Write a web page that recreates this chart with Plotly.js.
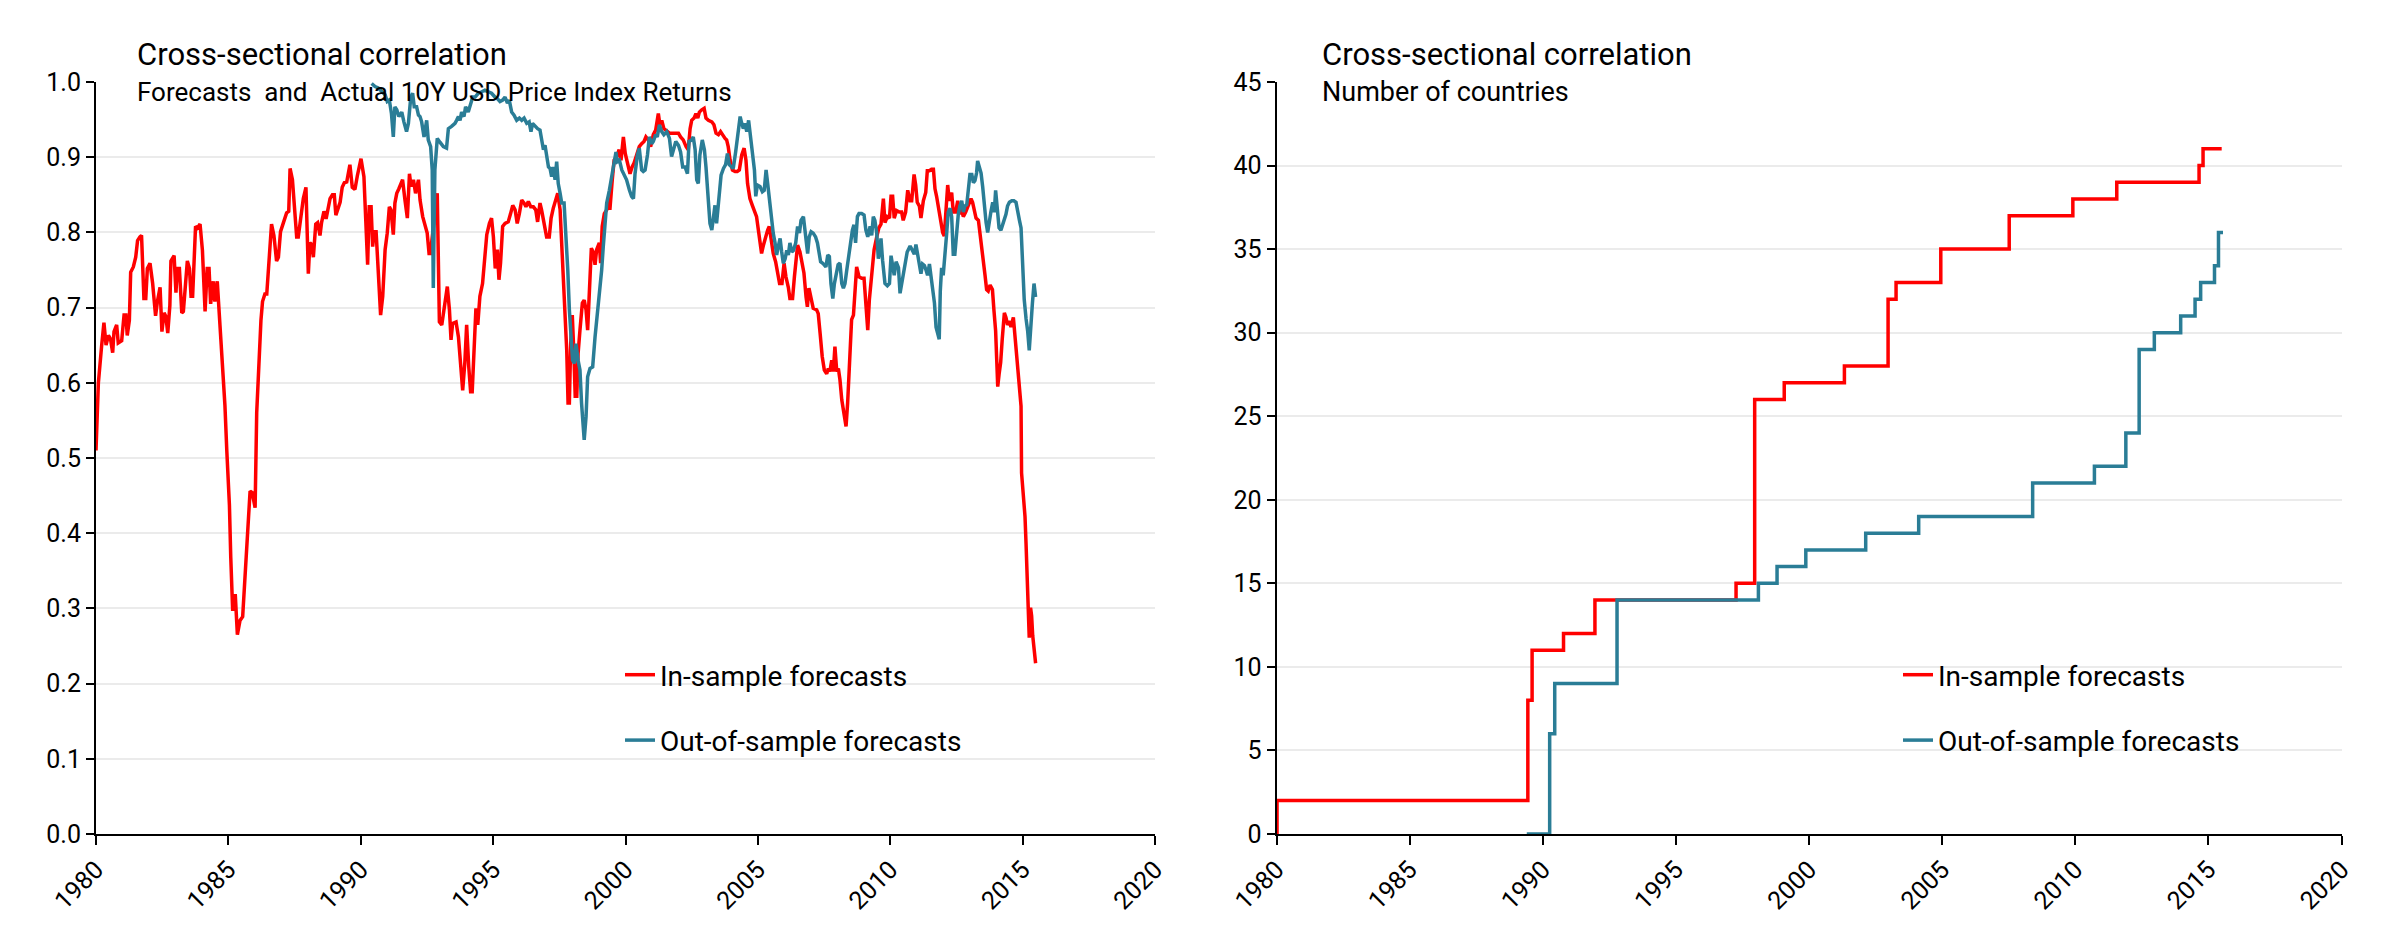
<!DOCTYPE html>
<html>
<head>
<meta charset="utf-8">
<script src="https://cdn.plot.ly/plotly-3.0.1.min.js"></script>
<style>
  html, body { margin: 0; padding: 0; background: #ffffff; }
  #chart { width: 2400px; height: 950px; }
</style>
</head>
<body>
<div id="chart"></div>
<script>
// ---------- Data ----------
// Left panel: cross-sectional correlation, in-sample forecasts
const inSampleYears = [
  1980.00,1980.09,1980.21,1980.30,1980.38,1980.47,1980.55,1980.63,1980.68,1980.78,1980.84,1980.97,
  1981.06,1981.13,1981.18,1981.26,1981.31,1981.41,1981.50,1981.57,1981.66,1981.72,1981.81,1981.88,1981.94,
  1982.04,1982.14,1982.25,1982.32,1982.42,1982.49,1982.57,1982.64,1982.71,1982.79,1982.83,1982.95,
  1983.02,1983.07,1983.15,1983.24,1983.30,1983.45,1983.53,1983.59,1983.65,1983.76,1983.83,1983.93,
  1984.02,1984.12,1984.20,1984.27,1984.33,1984.43,1984.49,1984.58,1984.63,1984.75,1984.87,1984.94,
  1985.04,1985.09,1985.16,1985.21,1985.26,1985.34,1985.44,1985.54,1985.63,1985.72,1985.82,1985.90,
  1986.01,1986.07,1986.16,1986.23,1986.29,1986.38,1986.45,1986.53,1986.63,1986.72,1986.82,1986.89,1986.97,
  1987.08,1987.20,1987.28,1987.33,1987.42,1987.49,1987.58,1987.64,1987.73,1987.83,1987.93,
  1988.02,1988.08,1988.15,1988.21,1988.30,1988.37,1988.46,1988.52,1988.61,1988.69,1988.75,1988.84,1988.93,
  1989.00,1989.06,1989.15,1989.22,1989.30,1989.38,1989.47,1989.59,1989.68,1989.78,1989.87,1989.97,
  1990.01,1990.12,1990.20,1990.26,1990.32,1990.39,1990.45,1990.51,1990.58,1990.66,1990.75,1990.83,1990.92,
  1991.00,1991.08,1991.14,1991.23,1991.29,1991.36,1991.44,1991.58,1991.67,1991.76,1991.84,1991.90,1991.99,
  1992.07,1992.18,1992.24,1992.34,1992.43,1992.51,1992.58,1992.63,1992.89,1992.97,
  1993.06,1993.18,1993.27,1993.35,1993.41,1993.47,1993.60,1993.69,1993.77,1993.85,1993.93,
  1994.00,1994.08,1994.15,1994.21,1994.29,1994.35,1994.42,1994.50,1994.60,1994.69,1994.76,1994.86,1994.94,
  1995.01,1995.08,1995.16,1995.22,1995.28,1995.36,1995.45,1995.57,1995.66,1995.74,1995.83,1995.91,1995.99,
  1996.08,1996.17,1996.24,1996.33,1996.42,1996.52,1996.61,1996.68,1996.77,1996.83,1996.92,
  1997.02,1997.12,1997.19,1997.27,1997.37,1997.44,1997.53,1997.59,1997.65,1997.71,1997.78,1997.83,1997.88,1997.93,1997.99,
  1998.05,1998.10,1998.16,1998.21,1998.28,1998.37,1998.44,1998.51,1998.57,1998.63,1998.71,1998.78,1998.85,1998.91,
  1999.01,1999.06,1999.12,1999.20,1999.29,1999.35,1999.41,1999.50,1999.57,1999.67,1999.76,1999.83,1999.92,1999.99,
  2000.07,2000.17,2000.25,2000.32,2000.42,2000.52,2000.61,2000.70,2000.77,2000.86,2000.95,
  2001.05,2001.14,2001.24,2001.30,2001.37,2001.45,2001.56,2001.66,2001.74,2001.87,
  2002.00,2002.08,2002.18,2002.29,2002.37,2002.44,2002.50,2002.59,2002.66,2002.73,2002.79,2002.88,2002.97,
  2003.04,2003.13,2003.26,2003.34,2003.42,2003.51,2003.59,2003.70,2003.76,2003.82,2003.88,2003.95,
  2004.04,2004.14,2004.22,2004.30,2004.39,2004.48,2004.55,2004.61,2004.70,2004.79,2004.87,2004.95,
  2005.02,2005.08,2005.14,2005.21,2005.28,2005.37,2005.43,2005.52,2005.58,2005.67,2005.75,2005.82,2005.91,2005.99,
  2006.06,2006.15,2006.21,2006.31,2006.38,2006.44,2006.50,2006.59,2006.68,2006.74,2006.82,2006.87,2006.93,
  2007.01,2007.09,2007.22,2007.28,2007.35,2007.43,2007.51,2007.60,2007.66,2007.72,2007.79,2007.85,2007.91,2007.98,
  2008.04,2008.10,2008.17,2008.25,2008.33,2008.39,2008.46,2008.54,2008.61,2008.67,2008.73,2008.82,2008.92,
  2009.01,2009.08,2009.15,2009.21,2009.30,2009.39,2009.49,2009.57,2009.65,2009.74,2009.80,2009.89,2009.97,
  2010.03,2010.09,2010.15,2010.24,2010.34,2010.43,2010.49,2010.58,2010.66,2010.75,2010.81,2010.90,2010.96,
  2011.02,2011.10,2011.16,2011.25,2011.34,2011.40,2011.48,2011.56,2011.63,2011.69,2011.75,2011.84,2011.92,2011.98,
  2012.04,2012.11,2012.17,2012.23,2012.32,2012.38,2012.47,2012.55,2012.61,2012.67,2012.76,2012.85,2012.95,
  2013.05,2013.11,2013.18,2013.24,2013.33,2013.39,2013.45,2013.52,2013.58,2013.64,2013.70,2013.77,2013.86,2013.92,2013.98,
  2014.02,2014.06,2014.11,2014.17,2014.23,2014.31,2014.37,2014.43,2014.50,2014.56,2014.65,2014.71,2014.77,2014.84,2014.90,2014.94,2014.96,
  2015.03,2015.09,2015.13,2015.18,2015.22,2015.25,2015.30,2015.34,2015.38,2015.43,2015.49
];
const inSampleCorr = [
  0.51,0.60,0.648,0.68,0.65,0.663,0.658,0.64,0.668,0.677,0.653,0.656,
  0.69,0.69,0.663,0.683,0.747,0.754,0.767,0.789,0.794,0.796,0.712,0.712,0.752,
  0.759,0.732,0.689,0.708,0.727,0.668,0.693,0.688,0.666,0.703,0.762,0.769,
  0.72,0.752,0.752,0.693,0.695,0.762,0.752,0.715,0.715,0.808,0.806,0.811,
  0.776,0.695,0.752,0.752,0.705,0.735,0.708,0.735,0.708,0.649,0.57,0.51,
  0.437,0.368,0.299,0.299,0.319,0.265,0.284,0.289,0.338,0.388,0.456,0.454,
  0.434,0.56,0.638,0.683,0.708,0.718,0.718,0.757,0.811,0.796,0.762,0.767,0.801,
  0.813,0.826,0.828,0.885,0.87,0.835,0.794,0.794,0.818,0.845,0.86,
  0.745,0.786,0.784,0.767,0.811,0.813,0.796,0.813,0.828,0.818,0.83,0.845,0.85,
  0.85,0.823,0.833,0.84,0.86,0.866,0.867,0.89,0.86,0.857,0.875,0.894,
  0.898,0.874,0.808,0.757,0.834,0.834,0.781,0.801,0.801,0.754,0.69,0.715,0.777,
  0.799,0.834,0.83,0.797,0.839,0.852,0.858,0.87,0.843,0.819,0.878,0.861,0.87,
  0.852,0.87,0.843,0.821,0.808,0.799,0.772,0.772,0.852,0.681,
  0.677,0.71,0.728,0.697,0.657,0.679,0.681,0.661,0.621,0.59,0.626,
  0.677,0.621,0.588,0.588,0.648,0.699,0.677,0.715,0.732,0.768,0.797,0.812,0.819,
  0.794,0.752,0.777,0.737,0.759,0.808,0.812,0.814,0.825,0.836,0.83,0.812,0.825,
  0.843,0.839,0.834,0.841,0.834,0.834,0.83,0.814,0.839,0.83,0.812,
  0.794,0.794,0.819,0.832,0.845,0.852,0.83,0.79,0.75,0.697,0.643,0.573,0.573,0.652,0.69,
  0.639,0.582,0.582,0.639,0.67,0.706,0.71,0.697,0.67,0.728,0.779,0.774,0.757,0.777,
  0.786,0.759,0.808,0.825,0.83,0.843,0.83,0.87,0.896,0.901,0.91,0.896,0.927,0.905,
  0.892,0.878,0.887,0.892,0.903,0.914,0.918,0.921,0.927,0.923,0.914,
  0.93,0.936,0.958,0.943,0.949,0.938,0.934,0.932,0.932,0.932,
  0.932,0.927,0.923,0.914,0.91,0.938,0.949,0.952,0.958,0.952,0.96,0.963,0.965,
  0.952,0.949,0.947,0.943,0.932,0.93,0.934,0.927,0.925,0.923,0.914,0.896,
  0.883,0.881,0.881,0.883,0.903,0.912,0.896,0.865,0.845,0.836,0.827,0.821,
  0.803,0.783,0.772,0.783,0.794,0.803,0.808,0.79,0.772,0.761,0.746,0.732,0.732,0.759,
  0.741,0.727,0.712,0.712,0.741,0.768,0.783,0.774,0.759,0.746,0.714,0.701,0.726,
  0.71,0.699,0.697,0.692,0.666,0.635,0.617,0.612,0.619,0.615,0.63,0.615,0.648,0.615,
  0.619,0.604,0.577,0.555,0.542,0.573,0.626,0.684,0.69,0.723,0.754,0.741,0.739,
  0.739,0.701,0.67,0.71,0.75,0.777,0.794,0.806,0.811,0.845,0.813,0.821,0.819,
  0.848,0.848,0.819,0.829,0.827,0.827,0.816,0.827,0.856,0.842,0.842,0.877,0.863,
  0.84,0.835,0.819,0.842,0.853,0.882,0.882,0.884,0.884,0.858,0.848,0.827,0.813,0.8,
  0.795,0.837,0.863,0.842,0.853,0.827,0.827,0.842,0.824,0.832,0.821,0.827,0.835,
  0.845,0.84,0.829,0.819,0.816,0.8,0.779,0.758,0.743,0.724,0.722,0.73,0.724,0.695,0.669,
  0.632,0.595,0.611,0.627,0.658,0.693,0.687,0.677,0.682,0.674,0.687,0.664,0.637,0.616,0.59,0.569,0.48,
  0.453,0.422,0.385,0.332,0.261,0.261,0.301,0.29,0.264,0.248,0.227
];

// Left panel: cross-sectional correlation, out-of-sample forecasts
const outSampleYears = [
  1990.41,1990.54,1990.66,1990.79,1990.92,
  1991.00,1991.08,1991.16,1991.23,1991.29,1991.36,1991.44,1991.55,1991.63,1991.73,1991.80,1991.89,1991.96,
  1992.02,1992.11,1992.18,1992.24,1992.30,1992.39,1992.49,1992.55,1992.64,1992.70,1992.74,1992.80,1992.89,1992.99,
  1993.12,1993.24,1993.31,1993.43,1993.56,1993.62,1993.69,1993.75,1993.81,1993.90,1993.96,
  1994.06,1994.15,1994.23,1994.32,1994.44,1994.57,1994.69,1994.82,1994.94,
  1995.07,1995.16,1995.26,1995.36,1995.45,1995.54,1995.61,1995.70,1995.79,1995.89,1995.99,
  1996.08,1996.17,1996.27,1996.36,1996.43,1996.49,1996.58,1996.68,1996.77,1996.83,1996.90,1996.96,
  1997.02,1997.09,1997.15,1997.21,1997.27,1997.34,1997.40,1997.46,1997.53,1997.59,1997.68,1997.75,1997.82,1997.88,1997.93,
  1998.00,1998.07,1998.13,1998.21,1998.28,1998.34,1998.41,1998.44,1998.51,1998.57,1998.66,1998.76,1998.85,1998.94,
  1999.01,1999.10,1999.16,1999.23,1999.29,1999.39,1999.48,1999.57,1999.64,1999.69,1999.77,1999.86,1999.94,
  2000.04,2000.15,2000.23,2000.30,2000.36,2000.45,2000.52,2000.61,2000.67,2000.74,2000.83,2000.90,2000.99,
  2001.05,2001.14,2001.20,2001.28,2001.37,2001.45,2001.56,2001.66,2001.74,2001.81,2001.90,
  2002.00,2002.08,2002.16,2002.25,2002.34,2002.40,2002.50,2002.56,2002.63,2002.69,2002.75,2002.81,2002.90,2002.98,
  2003.04,2003.13,2003.19,2003.26,2003.32,2003.38,2003.44,2003.53,2003.61,2003.70,2003.78,2003.85,2003.92,
  2004.01,2004.07,2004.16,2004.24,2004.33,2004.39,2004.45,2004.51,2004.58,2004.65,2004.73,2004.80,2004.87,2004.92,2004.98,
  2005.08,2005.17,2005.24,2005.31,2005.37,2005.43,2005.52,2005.58,2005.65,2005.71,2005.77,2005.84,2005.90,2005.96,
  2006.03,2006.09,2006.15,2006.21,2006.28,2006.34,2006.43,2006.50,2006.57,2006.63,2006.72,2006.80,2006.88,2006.94,
  2007.01,2007.09,2007.18,2007.25,2007.31,2007.37,2007.45,2007.51,2007.57,2007.64,2007.70,2007.76,2007.83,2007.89,2007.95,
  2008.03,2008.10,2008.17,2008.23,2008.29,2008.35,2008.43,2008.51,2008.57,2008.63,2008.69,2008.76,2008.82,2008.92,
  2009.01,2009.08,2009.15,2009.24,2009.30,2009.36,2009.42,2009.49,2009.55,2009.61,2009.65,2009.71,2009.80,2009.89,2009.97,
  2010.03,2010.09,2010.15,2010.22,2010.31,2010.37,2010.43,2010.49,2010.56,2010.64,2010.75,2010.83,2010.91,2010.97,
  2011.04,2011.10,2011.16,2011.22,2011.29,2011.35,2011.41,2011.48,2011.54,2011.60,2011.67,2011.73,2011.79,2011.85,2011.89,2011.94,
  2012.00,2012.07,2012.13,2012.19,2012.26,2012.32,2012.38,2012.44,2012.51,2012.57,2012.63,2012.70,2012.76,2012.82,2012.89,2012.95,
  2013.01,2013.08,2013.14,2013.20,2013.26,2013.30,2013.36,2013.43,2013.49,2013.55,2013.62,2013.68,2013.74,2013.80,2013.87,2013.93,2013.98,
  2014.04,2014.11,2014.18,2014.25,2014.31,2014.37,2014.43,2014.50,2014.59,2014.67,2014.75,2014.81,2014.88,2014.94,
  2015.00,2015.06,2015.13,2015.19,2015.25,2015.30,2015.37,2015.43,2015.49
];
const outSampleCorr = [
  0.998,0.994,0.992,0.987,0.983,
  0.974,0.976,0.958,0.927,0.967,0.963,0.954,0.96,0.947,0.934,0.945,0.98,0.985,
  0.967,0.967,0.956,0.954,0.947,0.927,0.949,0.923,0.914,0.883,0.726,0.883,0.925,0.92,
  0.914,0.912,0.938,0.941,0.945,0.949,0.954,0.949,0.96,0.954,0.967,
  0.96,0.972,0.98,0.98,0.985,0.987,0.989,0.987,0.985,
  0.98,0.978,0.974,0.976,0.98,0.972,0.976,0.96,0.956,0.949,0.952,
  0.949,0.952,0.945,0.947,0.934,0.945,0.941,0.938,0.936,0.923,0.91,0.916,
  0.901,0.887,0.885,0.874,0.887,0.87,0.894,0.865,0.852,0.839,0.839,0.803,0.75,0.697,0.661,
  0.63,0.626,0.652,0.63,0.617,0.573,0.546,0.524,0.555,0.608,0.619,0.621,0.661,0.692,
  0.723,0.75,0.781,0.816,0.839,0.856,0.874,0.892,0.907,0.894,0.896,0.883,0.878,
  0.87,0.856,0.848,0.845,0.878,0.903,0.912,0.883,0.881,0.883,0.903,0.927,0.918,
  0.921,0.93,0.927,0.943,0.934,0.93,0.934,0.925,0.901,0.912,0.921,
  0.916,0.907,0.887,0.887,0.878,0.921,0.923,0.927,0.91,0.87,0.865,0.903,0.923,0.91,
  0.887,0.848,0.812,0.803,0.816,0.836,0.812,0.845,0.876,0.885,0.89,0.905,0.89,
  0.887,0.885,0.907,0.932,0.954,0.945,0.938,0.945,0.934,0.949,0.923,0.901,0.883,0.848,0.863,
  0.861,0.854,0.856,0.883,0.865,0.845,0.825,0.799,0.786,0.77,0.781,0.792,0.774,0.759,
  0.765,0.776,0.77,0.786,0.774,0.776,0.786,0.808,0.799,0.816,0.821,0.794,0.772,0.794,
  0.801,0.799,0.794,0.786,0.776,0.761,0.759,0.757,0.754,0.77,0.768,0.732,0.712,0.732,0.743,
  0.757,0.759,0.732,0.726,0.732,0.748,0.768,0.79,0.803,0.81,0.786,0.821,0.825,0.825,
  0.823,0.803,0.794,0.808,0.796,0.821,0.816,0.799,0.765,0.776,0.792,0.763,0.732,0.729,0.732,
  0.769,0.753,0.743,0.761,0.753,0.719,0.732,0.743,0.758,0.774,0.782,0.777,0.771,0.784,
  0.771,0.758,0.745,0.758,0.756,0.75,0.743,0.758,0.743,0.729,0.706,0.674,0.664,0.658,0.722,0.753,
  0.743,0.769,0.798,0.827,0.832,0.821,0.771,0.771,0.806,0.824,0.835,0.842,0.827,0.835,0.837,0.856,
  0.877,0.877,0.866,0.869,0.879,0.895,0.887,0.879,0.861,0.835,0.813,0.8,0.816,0.827,0.84,0.827,0.856,
  0.832,0.806,0.803,0.811,0.821,0.824,0.835,0.84,0.842,0.842,0.84,0.827,0.816,0.806,
  0.758,0.711,0.685,0.669,0.643,0.679,0.706,0.732,0.714
];

// Right panel: number of countries (step series; each value holds until the next date)
const inCountYears  = [1980.00,1980.02,1989.44,1989.60,1990.78,1991.96,1997.26,1997.96,1999.07,2001.33,2002.97,2003.27,2004.95,2007.52,2009.91,2011.56,2014.65,2014.80,2015.50];
const inCount       = [0,2,8,11,12,14,15,26,27,28,32,33,35,37,38,39,40,41,41];
const outCountYears = [1989.40,1990.26,1990.45,1992.79,1998.10,1998.80,1999.88,2002.13,2004.12,2008.40,2010.72,2011.90,2012.40,2012.97,2013.96,2014.50,2014.71,2015.23,2015.38,2015.55];
const outCount      = [0,6,9,14,15,16,17,18,19,21,22,24,29,30,31,32,33,34,36,36];

// Axis ticks
const yearTicks = [1980,1985,1990,1995,2000,2005,2010,2015,2020];
const yearTickLabels = ['1980','1985','1990','1995','2000','2005','2010','2015','2020'];
const corrTicks = [0,0.1,0.2,0.3,0.4,0.5,0.6,0.7,0.8,0.9,1.0];
const countTicks = [0,5,10,15,20,25,30,35,40,45];

// Text
const seriesNames = ['In-sample forecasts', 'Out-of-sample forecasts'];
const leftTitle = 'Cross-sectional correlation';
const leftSubtitle = 'Forecasts\u00a0 and\u00a0 Actual 10Y USD Price Index Returns';
const rightTitle = 'Cross-sectional correlation';
const rightSubtitle = 'Number of countries';

// ---------- Styling ----------
const RED = '#ff0000';
const TEAL = '#2a7d96';
const FONT = 'Roboto, "DejaVu Sans", sans-serif';
const W = 2400, H = 950;
const px = v => v / W;          // horizontal pixel -> paper
const py = v => 1 - v / H;      // vertical pixel (from top) -> paper

const traces = [
  { x: inSampleYears, y: inSampleCorr, type: 'scatter', mode: 'lines', name: seriesNames[0],
    line: { color: RED, width: 3.5 }, xaxis: 'x', yaxis: 'y', legend: 'legend', legendgroup: 'a' },
  { x: outSampleYears, y: outSampleCorr, type: 'scatter', mode: 'lines', name: seriesNames[1],
    line: { color: TEAL, width: 3.5 }, xaxis: 'x', yaxis: 'y', legend: 'legend', legendgroup: 'b' },
  { x: inCountYears, y: inCount, type: 'scatter', mode: 'lines', name: seriesNames[0],
    line: { color: RED, width: 3.5, shape: 'hv' }, xaxis: 'x2', yaxis: 'y2', legend: 'legend2', legendgroup: 'c' },
  { x: outCountYears, y: outCount, type: 'scatter', mode: 'lines', name: seriesNames[1],
    line: { color: TEAL, width: 3.5, shape: 'hv' }, xaxis: 'x2', yaxis: 'y2', legend: 'legend2', legendgroup: 'd' }
];

const xAxisCommon = {
  range: [1980, 2020], tickmode: 'array', tickvals: yearTicks, ticktext: yearTickLabels,
  tickangle: -45, showgrid: false, zeroline: false, showline: true, linecolor: '#000000', linewidth: 2,
  ticks: 'outside', ticklen: 9, tickwidth: 2, tickcolor: '#000000',
  tickfont: { family: FONT, size: 25, color: '#000000' }, fixedrange: true
};
const yAxisCommon = {
  showgrid: true, gridcolor: '#ebebeb', gridwidth: 2, zeroline: false, showline: true,
  linecolor: '#000000', linewidth: 2, ticks: 'outside', ticklen: 8, tickwidth: 2, tickcolor: '#000000',
  tickfont: { family: FONT, size: 25, color: '#000000' }, fixedrange: true
};

const legendCommon = {
  font: { family: FONT, size: 28, color: '#000000' }, bgcolor: 'rgba(0,0,0,0)',
  borderwidth: 0, tracegroupgap: 26, xanchor: 'left', yanchor: 'top', itemclick: false, itemdoubleclick: false
};

const layout = {
  width: W, height: H,
  margin: { l: 0, r: 0, t: 0, b: 0 },
  paper_bgcolor: '#ffffff', plot_bgcolor: '#ffffff',
  font: { family: FONT, color: '#000000' },
  showlegend: true,
  xaxis: Object.assign({}, xAxisCommon, { domain: [px(96), px(1155)], anchor: 'y' }),
  yaxis: Object.assign({}, yAxisCommon, { domain: [py(834), py(82)], range: [0, 1], tickmode: 'array',
    tickvals: corrTicks, tickformat: '.1f', anchor: 'x' }),
  xaxis2: Object.assign({}, xAxisCommon, { domain: [px(1276.5), px(2341.5)], anchor: 'y2' }),
  yaxis2: Object.assign({}, yAxisCommon, { domain: [py(834), py(82)], range: [0, 45], tickmode: 'array',
    tickvals: countTicks, anchor: 'x2' }),
  legend: Object.assign({}, legendCommon, { x: px(620), y: py(650) }),
  legend2: Object.assign({}, legendCommon, { x: px(1898), y: py(650) }),
  annotations: [
    { text: leftTitle, xref: 'paper', yref: 'paper', x: px(135), y: py(55), xanchor: 'left', yanchor: 'middle',
      showarrow: false, font: { family: FONT, size: 31, color: '#000000' } },
    { text: leftSubtitle, xref: 'paper', yref: 'paper', x: px(135), y: py(92), xanchor: 'left', yanchor: 'middle',
      showarrow: false, font: { family: FONT, size: 26, color: '#000000' } },
    { text: rightTitle, xref: 'paper', yref: 'paper', x: px(1320), y: py(55), xanchor: 'left', yanchor: 'middle',
      showarrow: false, font: { family: FONT, size: 31, color: '#000000' } },
    { text: rightSubtitle, xref: 'paper', yref: 'paper', x: px(1320), y: py(92), xanchor: 'left', yanchor: 'middle',
      showarrow: false, font: { family: FONT, size: 27, color: '#000000' } }
  ]
};

Plotly.newPlot('chart', traces, layout, { displayModeBar: false, staticPlot: true, responsive: false });
</script>
</body>
</html>
